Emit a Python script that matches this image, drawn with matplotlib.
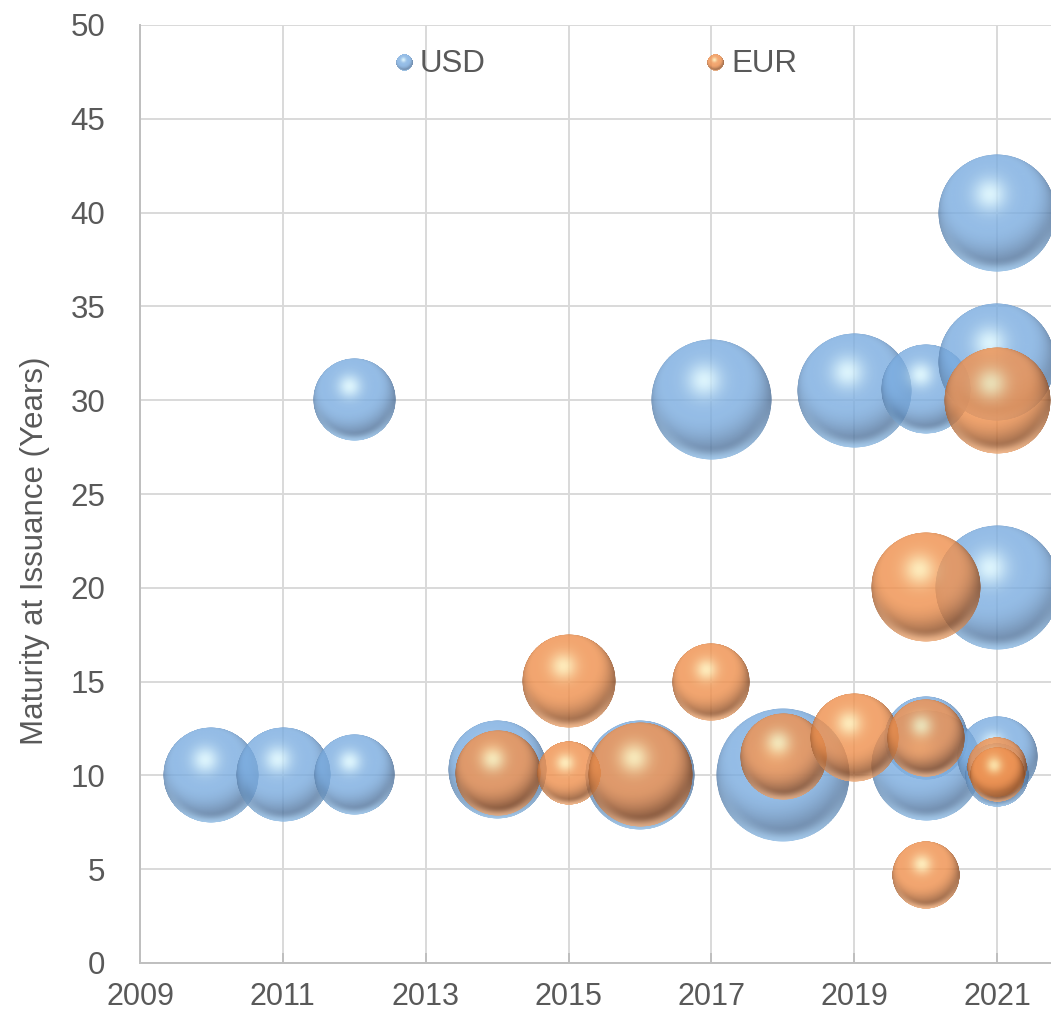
import numpy as np
import matplotlib
matplotlib.use("Agg")
import matplotlib.pyplot as plt
from matplotlib.offsetbox import OffsetImage, AnnotationBbox

plt.rcParams['font.family'] = ['Liberation Sans', 'DejaVu Sans']

# ---------------- data ----------------
usd_year = [2010, 2011, 2012, 2012, 2014, 2016, 2017, 2018, 2019, 2020, 2020, 2020, 2021, 2021, 2021, 2021, 2021]
usd_mat = [10, 10, 10, 30, 10.3, 10, 30, 10, 30.5, 30.6, 12, 10.5, 40, 32, 20, 11, 10]
usd_size = [2.05, 1.97, 1.43, 1.50, 2.14, 2.65, 3.21, 4.00, 2.90, 1.80, 1.57, 2.70, 3.10, 3.05, 3.43, 1.46, 0.91]

eur_year = [2014, 2015, 2015, 2016, 2017, 2018, 2019, 2020, 2020, 2020, 2021, 2021, 2021]
eur_mat = [10.1, 10.1, 15, 10, 15, 11, 12, 12, 20, 4.7, 10.45, 10, 30]
eur_size = [1.61, 0.91, 1.93, 2.41, 1.35, 1.65, 1.76, 1.35, 2.65, 1.03, 0.78, 0.65, 2.55]

x_ticks = [2009, 2011, 2013, 2015, 2017, 2019, 2021]
y_ticks = [0, 5, 10, 15, 20, 25, 30, 35, 40, 45, 50]
series_names = ["USD", "EUR"]

# ---------------- style ----------------
W, H, DPI = 1051, 1014, 100
R_MAX_PX = 67.0
TEXT = "#595959"
GRID = "#d9d9d9"


def smooth(e0, e1, x):
    t = np.clip((x - e0) / (e1 - e0), 0, 1)
    return t * t * (3 - 2 * t)


def sphere_texture(base, light, dark, rimc, n=320, alpha=0.8):
    yy, xx = np.mgrid[-1:1:n * 1j, -1:1:n * 1j]
    u = xx
    v = -yy
    r2 = u ** 2 + v ** 2
    r = np.sqrt(r2)
    nz = np.sqrt(np.clip(1 - r2, 0, 1))
    L = np.array([-0.15, 0.45, 0.88])
    L = L / np.linalg.norm(L)
    diff = np.clip(u * L[0] + v * L[1] + nz * L[2], 0, 1)
    base = np.array(base) / 255.0
    light = np.array(light) / 255.0
    dark = np.array(dark) / 255.0
    rimc = np.array(rimc) / 255.0
    t = smooth(0.0, 0.75, diff)
    col = dark[None, None, :] + (base - dark)[None, None, :] * t[..., None]
    hl = np.exp(-((u + 0.12) ** 2 + (v - 0.32) ** 2) / (2 * 0.2 ** 2))
    col = col + (light - col) * (0.9 * hl)[..., None]
    down = np.clip(-v / np.maximum(r, 1e-6), 0, 1)
    rim = smooth(0.78, 1.0, r) * down ** 1.2
    col = col + (rimc - col) * (0.85 * rim)[..., None]
    col = np.clip(col, 0, 1)
    edge = np.clip((1 - r) * n / 2.5, 0, 1)
    a = alpha * edge
    return np.dstack([col, a])


TEX_N = 320
blue_tex = sphere_texture((122, 172, 224), (220, 248, 255), (78, 112, 152), (150, 198, 240), n=TEX_N, alpha=0.8)
orange_tex = sphere_texture((240, 146, 80), (255, 238, 180), (140, 78, 38), (252, 182, 128), n=TEX_N, alpha=0.82)

fig = plt.figure(figsize=(W / DPI, H / DPI), dpi=DPI)
ax = fig.add_axes([140 / W, (H - 963) / H, 1 - 140 / W, (963 - 25) / H])

x0 = 2009
px_per_year = (997 - 140) / 12.0
ax.set_xlim(x0, x0 + (W - 140) / px_per_year)
ax.set_ylim(0, 50)
ax.set_xticks(x_ticks)
ax.set_yticks(y_ticks)
ax.set_axisbelow(True)
ax.grid(True, color=GRID, linewidth=1.4)

for s in ["top", "right"]:
    ax.spines[s].set_visible(False)
for s in ["left", "bottom"]:
    ax.spines[s].set_color("#bfbfbf")
    ax.spines[s].set_linewidth(1.4)

ax.tick_params(axis="x", direction="in", length=7, width=1.4, color="#bfbfbf",
               labelsize=22, labelcolor=TEXT, pad=14)
ax.tick_params(axis="y", length=0, labelsize=22.5, labelcolor=TEXT, pad=25)

all_sizes = usd_size + eur_size
smax = max(all_sizes)

z = 3
for years, mats, sizes, tex in [(usd_year, usd_mat, usd_size, blue_tex),
                                (eur_year, eur_mat, eur_size, orange_tex)]:
    for xv, yv, sv in zip(years, mats, sizes):
        r_px = R_MAX_PX * np.sqrt(sv / smax)
        oi = OffsetImage(tex, zoom=2 * r_px / TEX_N, dpi_cor=False, interpolation="antialiased")
        ab = AnnotationBbox(oi, (xv, yv), xycoords="data", frameon=False, pad=0,
                            box_alignment=(0.5, 0.5), annotation_clip=False)
        ab.set_zorder(z)
        z += 0.01
        ax.add_artist(ab)

# y label
fig.text(35 / W, 1 - 551 / H, "Maturity at Issuance (Years)", rotation=90,
         ha="center", va="center", fontsize=22.5, color=TEXT)

# legend
for name, tex, mx, tx in [(series_names[0], blue_tex, 404, 420), (series_names[1], orange_tex, 715, 731)]:
    oi = OffsetImage(tex, zoom=17 / TEX_N, dpi_cor=False, interpolation="antialiased")
    ab = AnnotationBbox(oi, (mx, H - 63), xycoords="figure pixels", frameon=False, pad=0,
                        box_alignment=(0.5, 0.5))
    ab.set_zorder(10)
    fig.add_artist(ab)
    fig.text(tx / W, 1 - 64 / H, name, ha="left", va="center", fontsize=22.5, color=TEXT)

fig.savefig("out.png", dpi=DPI)
